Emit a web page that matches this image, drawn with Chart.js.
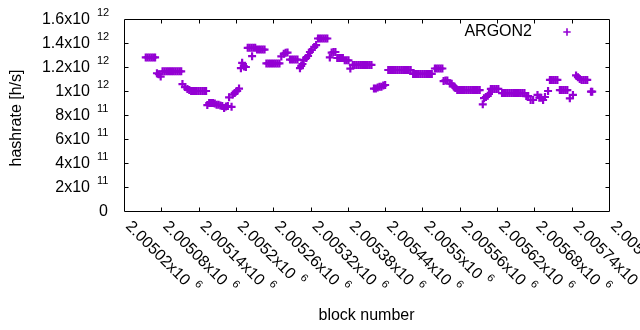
<!DOCTYPE html>
<html>
<head>
<meta charset="utf-8">
<script src="https://cdn.jsdelivr.net/npm/chart.js@4.4.0/dist/chart.umd.min.js"></script>
<style>
  html, body { margin: 0; padding: 0; background: #fff; }
  canvas { display: block; }
</style>
</head>
<body>
<canvas id="myChart" width="640" height="330"></canvas>
<script>
// block numbers and hashrate
var blocks = [
  2005055, 2005058, 2005061, 2005064, 2005067, 2005070,
  2005073, 2005076, 2005079,
  2005082, 2005085, 2005088, 2005091, 2005094, 2005097, 2005100, 2005103, 2005106, 2005109, 2005112,
  2005114, 2005118, 2005122, 2005125,
  2005128, 2005131, 2005134, 2005137, 2005140, 2005143, 2005146, 2005149, 2005152,
  2005154, 2005157, 2005160, 2005163, 2005166, 2005169, 2005172,
  2005175, 2005178, 2005181, 2005184, 2005187,
  2005189, 2005193, 2005195, 2005198, 2005202, 2005205,
  2005208, 2005210, 2005213, 2005216,
  2005219, 2005222, 2005225, 2005226, 2005228, 2005231,
  2005234, 2005237, 2005240, 2005243, 2005246,
  2005249, 2005252, 2005255, 2005258, 2005261, 2005264, 2005267, 2005270,
  2005273, 2005277, 2005280, 2005283,
  2005287, 2005290, 2005293, 2005296, 2005299,
  2005303, 2005305, 2005307, 2005309, 2005313, 2005316, 2005319, 2005322, 2005326, 2005329,
  2005332, 2005335, 2005338, 2005341, 2005344, 2005347,
  2005351, 2005354, 2005357, 2005360,
  2005363, 2005366, 2005369, 2005372, 2005375, 2005378, 2005381,
  2005384,
  2005388, 2005391, 2005394, 2005397, 2005400, 2005403, 2005406, 2005409, 2005412, 2005415, 2005418,
  2005422, 2005425, 2005428, 2005431, 2005434, 2005437, 2005440,
  2005445, 2005448, 2005451, 2005454, 2005457, 2005460, 2005463, 2005466, 2005469, 2005472, 2005475, 2005478, 2005481,
  2005485, 2005488, 2005491, 2005494, 2005497, 2005500, 2005503, 2005506, 2005509, 2005512, 2005515,
  2005520, 2005523, 2005526, 2005529, 2005532,
  2005534, 2005537, 2005540, 2005544, 2005547, 2005550, 2005553,
  2005556, 2005559, 2005562, 2005565, 2005568, 2005571, 2005574, 2005577, 2005580, 2005583, 2005586, 2005589, 2005592,
  2005597, 2005599, 2005602, 2005605, 2005607,
  2005610, 2005613, 2005616, 2005619, 2005622,
  2005628, 2005631, 2005634, 2005637, 2005640, 2005643, 2005646, 2005649, 2005652, 2005655, 2005658, 2005661, 2005664,
  2005667, 2005670, 2005674, 2005678, 2005685, 2005688, 2005691, 2005694, 2005697, 2005702,
  2005705, 2005708, 2005711, 2005714, 2005717,
  2005721, 2005724, 2005727, 2005730, 2005733,
  2005737, 2005742,
  2005747,
  2005750, 2005753, 2005756, 2005759, 2005762, 2005765,
  2005771, 2005773
];

var hashrate = [
  1.28e12, 1.28e12, 1.28e12, 1.28e12, 1.28e12, 1.28e12,
  1.148e12, 1.14e12, 1.12e12,
  1.164e12, 1.164e12, 1.164e12, 1.164e12, 1.164e12, 1.164e12, 1.164e12, 1.164e12, 1.164e12, 1.164e12, 1.164e12,
  1.058e12, 1.033e12, 1.017e12, 1.008e12,
  1.0e12, 1.0e12, 1.0e12, 1.0e12, 1.0e12, 1.0e12, 1.0e12, 1.0e12, 1.0e12,
  0.883e12, 0.9e12, 0.9e12, 0.9e12, 0.895e12, 0.885e12, 0.885e12,
  0.88e12, 0.875e12, 0.858e12, 0.87e12, 0.875e12,
  0.947e12, 0.868e12, 0.97e12, 0.983e12, 1.0e12, 1.02e12,
  1.19e12, 1.235e12, 1.205e12, 1.2e12,
  1.36e12, 1.36e12, 1.36e12, 1.29e12, 1.36e12, 1.36e12,
  1.345e12, 1.345e12, 1.345e12, 1.345e12, 1.345e12,
  1.23e12, 1.23e12, 1.23e12, 1.23e12, 1.23e12, 1.23e12, 1.23e12, 1.23e12,
  1.288e12, 1.31e12, 1.318e12, 1.32e12,
  1.262e12, 1.262e12, 1.262e12, 1.262e12, 1.262e12,
  1.19e12, 1.21e12, 1.225e12, 1.258e12, 1.275e12, 1.292e12, 1.325e12, 1.342e12, 1.367e12, 1.383e12,
  1.4375e12, 1.4375e12, 1.4375e12, 1.4375e12, 1.4375e12, 1.4375e12,
  1.28e12, 1.32e12, 1.325e12, 1.325e12,
  1.275e12, 1.275e12, 1.275e12, 1.275e12, 1.256e12, 1.256e12, 1.256e12,
  1.187e12,
  1.217e12, 1.217e12, 1.217e12, 1.217e12, 1.217e12, 1.217e12, 1.217e12, 1.217e12, 1.217e12, 1.217e12, 1.217e12,
  1.02e12, 1.02e12, 1.03e12, 1.035e12, 1.035e12, 1.045e12, 1.05e12,
  1.175e12, 1.175e12, 1.175e12, 1.175e12, 1.175e12, 1.175e12, 1.175e12, 1.175e12, 1.175e12, 1.175e12, 1.175e12, 1.175e12, 1.175e12,
  1.142e12, 1.142e12, 1.142e12, 1.142e12, 1.142e12, 1.142e12, 1.142e12, 1.142e12, 1.142e12, 1.142e12, 1.142e12,
  1.1875e12, 1.1875e12, 1.1875e12, 1.1875e12, 1.1875e12,
  1.083e12, 1.088e12, 1.088e12, 1.0625e12, 1.06e12, 1.04e12, 1.025e12,
  1.008e12, 1.008e12, 1.008e12, 1.008e12, 1.008e12, 1.008e12, 1.008e12, 1.008e12, 1.008e12, 1.008e12, 1.008e12, 1.008e12, 1.008e12,
  0.889e12, 0.94e12, 0.95e12, 0.96e12, 0.975e12,
  1.017e12, 1.017e12, 1.017e12, 1.017e12, 1.017e12,
  0.983e12, 0.983e12, 0.983e12, 0.983e12, 0.983e12, 0.983e12, 0.983e12, 0.983e12, 0.983e12, 0.983e12, 0.983e12, 0.983e12, 0.983e12,
  0.958e12, 0.958e12, 0.925e12, 0.925e12, 0.967e12, 0.944e12, 0.944e12, 0.925e12, 0.95e12, 1.0e12,
  1.092e12, 1.092e12, 1.092e12, 1.092e12, 1.092e12,
  1.008e12, 1.008e12, 1.008e12, 1.008e12, 1.008e12,
  0.939e12, 0.967e12,
  1.13e12,
  1.115e12, 1.1e12, 1.092e12, 1.092e12, 1.092e12, 1.092e12,
  0.994e12, 0.994e12
];

var seriesName = "ARGON2";

var xTicks = [2005020, 2005080, 2005140, 2005200, 2005260, 2005320, 2005380,
              2005440, 2005500, 2005560, 2005620, 2005680, 2005740, 2005800];
var xTickBase = ["2.00502x10", "2.00508x10", "2.00514x10", "2.0052x10", "2.00526x10",
                 "2.00532x10", "2.00538x10", "2.00544x10", "2.0055x10", "2.00556x10",
                 "2.00562x10", "2.00568x10", "2.00574x10", "2.0058x10"];
var xTickExp = "6";

var yTicks = [0, 2e11, 4e11, 6e11, 8e11, 1e12, 1.2e12, 1.4e12, 1.6e12];
var yTickBase = ["0", "2x10", "4x10", "6x10", "8x10", "1x10", "1.2x10", "1.4x10", "1.6x10"];
var yTickExp = ["", "11", "11", "11", "11", "12", "12", "12", "12"];

var xTitle = "block number";
var yTitle = "hashrate [h/s]";

var purple = "#9400d3";
var FONT = '"Liberation Sans", Arial, sans-serif';

// gnuplot-ish frame, inward ticks, rotated labels with superscripts
var gnuplotFrame = {
  id: 'gnuplotFrame',
  afterDatasetsDraw: function(chart) {
    var ctx = chart.ctx;
    var a = chart.chartArea;
    var xs = chart.scales.x, ys = chart.scales.y;
    var L = Math.round(a.left) + 0.5, R = Math.round(a.right) + 0.5;
    var T = Math.round(a.top) + 0.5, B = Math.round(a.bottom) + 0.5;

    ctx.save();
    ctx.strokeStyle = '#000';
    ctx.lineWidth = 1;
    ctx.beginPath();
    ctx.rect(L, T, R - L, B - T);

    var tl = 4;
    for (var i = 1; i < yTicks.length - 1; i++) {
      var py = Math.round(ys.getPixelForValue(yTicks[i])) + 0.5;
      ctx.moveTo(L, py); ctx.lineTo(L + tl, py);
      ctx.moveTo(R, py); ctx.lineTo(R - tl, py);
    }
    for (var j = 1; j < xTicks.length - 1; j++) {
      var px = Math.round(xs.getPixelForValue(xTicks[j])) + 0.5;
      ctx.moveTo(px, B); ctx.lineTo(px, B - tl);
      ctx.moveTo(px, T); ctx.lineTo(px, T + tl);
    }
    ctx.stroke();

    ctx.fillStyle = '#000';
    ctx.textBaseline = 'middle';

    // y tick labels
    for (var k = 0; k < yTicks.length; k++) {
      var y = ys.getPixelForValue(yTicks[k]);
      if (yTickExp[k]) {
        ctx.font = '16px ' + FONT;
        ctx.textAlign = 'right';
        ctx.fillText(yTickBase[k], a.left - 34, y + 1);
        ctx.font = '11px ' + FONT;
        ctx.textAlign = 'left';
        ctx.fillText(yTickExp[k], a.left - 27, y - 6);
      } else {
        ctx.font = '16px ' + FONT;
        ctx.textAlign = 'right';
        ctx.fillText(yTickBase[k], a.left - 16, y + 1);
      }
    }

    // x tick labels, rotated down-right
    for (var m = 0; m < xTicks.length; m++) {
      var x = xs.getPixelForValue(xTicks[m]);
      ctx.save();
      ctx.translate(x + 4, a.bottom + 13);
      ctx.rotate(Math.PI / 4);
      ctx.font = '16px ' + FONT;
      ctx.textAlign = 'left';
      ctx.fillText(xTickBase[m], 0, 0);
      var w = ctx.measureText(xTickBase[m]).width;
      ctx.font = '11px ' + FONT;
      ctx.fillText(xTickExp, w + 6, -7);
      ctx.restore();
    }

    // axis titles
    ctx.font = '16px ' + FONT;
    ctx.textAlign = 'center';
    ctx.fillText(xTitle, (a.left + a.right) / 2, 316);
    ctx.save();
    ctx.translate(17, 118);
    ctx.rotate(-Math.PI / 2);
    ctx.fillText(yTitle, 0, 0);
    ctx.restore();

    // key
    ctx.textAlign = 'right';
    ctx.fillText(seriesName, a.right - 77, a.top + 13);
    var kx = a.right - 42, ky = a.top + 13;
    ctx.strokeStyle = purple;
    ctx.lineWidth = 1.6;
    ctx.beginPath();
    ctx.moveTo(kx - 3.7, ky); ctx.lineTo(kx + 3.7, ky);
    ctx.moveTo(kx, ky - 3.7); ctx.lineTo(kx, ky + 3.7);
    ctx.stroke();
    ctx.restore();
  }
};

var points = blocks.map(function(b, i) { return { x: b, y: hashrate[i] }; });

new Chart(document.getElementById('myChart'), {
  type: 'scatter',
  data: {
    datasets: [{
      label: seriesName,
      data: points,
      pointStyle: 'cross',
      pointRadius: 4,
      pointBorderWidth: 2.2,
      borderColor: purple,
      backgroundColor: purple
    }]
  },
  options: {
    responsive: false,
    animation: false,
    events: [],
    layout: { padding: { left: 124, top: 19, right: 31, bottom: 119 } },
    scales: {
      x: { type: 'linear', display: false, min: 2005020, max: 2005800 },
      y: { type: 'linear', display: false, min: 0, max: 1.6e12 }
    },
    plugins: {
      legend: { display: false },
      tooltip: { enabled: false },
      title: { display: false }
    }
  },
  plugins: [gnuplotFrame]
});
</script>
</body>
</html>
